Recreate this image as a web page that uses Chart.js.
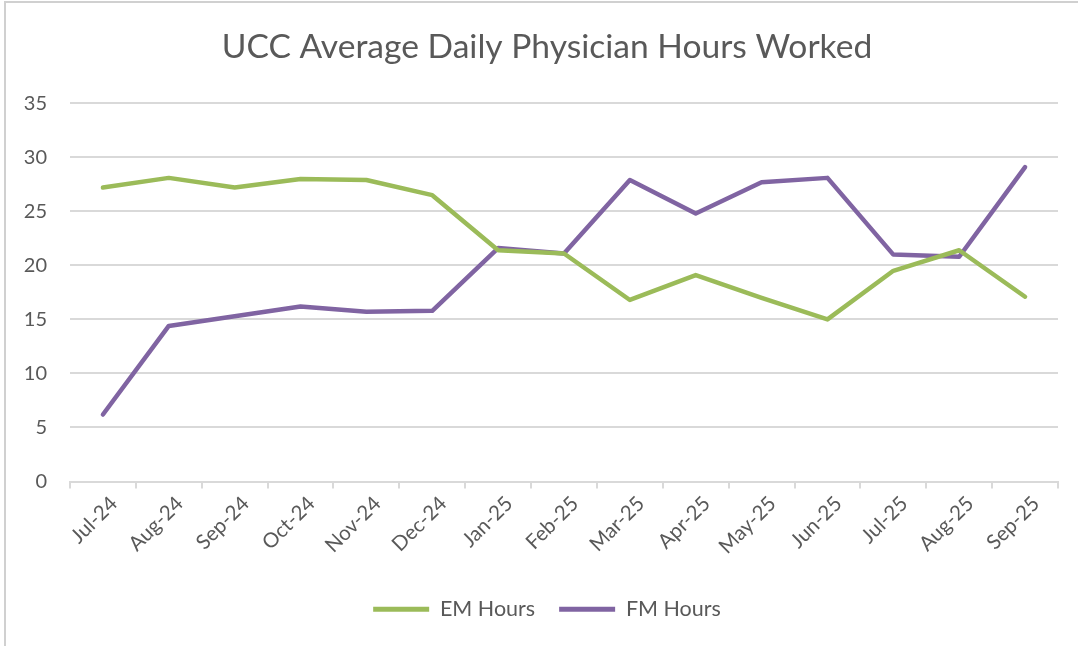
<!DOCTYPE html>
<html>
<head>
<meta charset="utf-8">
<script src="https://cdn.jsdelivr.net/npm/chart.js@4"></script>
<style>
  html, body { margin: 0; padding: 0; background: #ffffff; }
  #wrap { position: relative; width: 1078px; height: 646px; }
</style>
</head>
<body>
<div id="wrap"><canvas id="c" width="1078" height="646"></canvas></div>
<script>
const categories = ["Jul-24","Aug-24","Sep-24","Oct-24","Nov-24","Dec-24","Jan-25","Feb-25","Mar-25","Apr-25","May-25","Jun-25","Jul-25","Aug-25","Sep-25"];
const emHours = [27.2, 28.1, 27.2, 28.0, 27.9, 26.5, 21.4, 21.1, 16.8, 19.1, 17.0, 15.0, 19.5, 21.4, 17.1];
const fmHours = [6.2, 14.4, 15.3, 16.2, 15.7, 15.8, 21.6, 21.1, 27.9, 24.8, 27.7, 28.1, 21.0, 20.8, 29.1];
const yTicks = [0, 5, 10, 15, 20, 25, 30, 35];

const FONT = "Lato, 'Open Sans', sans-serif";
const TEXT = "#595959";
const GRID = "#d9d9d9";

const borderPlugin = {
  id: 'frame',
  beforeDraw(chart) {
    const ctx = chart.ctx;
    ctx.save();
    ctx.fillStyle = '#ffffff';
    ctx.fillRect(0, 0, chart.width, chart.height);
    ctx.strokeStyle = '#d0d0d0';
    ctx.lineWidth = 2;
    ctx.beginPath();
    ctx.moveTo(5, chart.height);
    ctx.lineTo(5, 2);
    ctx.lineTo(chart.width, 2);
    ctx.stroke();
    ctx.restore();
  }
};

new Chart(document.getElementById('c'), {
  type: 'line',
  data: {
    labels: categories,
    datasets: [
      { label: 'EM Hours', data: emHours, borderColor: '#9BBB59', backgroundColor: '#9BBB59',
        borderWidth: 4.5, pointRadius: 0, pointHoverRadius: 0, tension: 0, borderCapStyle: 'round', borderJoinStyle: 'round' },
      { label: 'FM Hours', data: fmHours, borderColor: '#8064A2', backgroundColor: '#8064A2',
        borderWidth: 4.5, pointRadius: 0, pointHoverRadius: 0, tension: 0, borderCapStyle: 'round', borderJoinStyle: 'round' }
    ]
  },
  options: {
    responsive: false,
    animation: false,
    devicePixelRatio: 1,
    layout: { padding: { left: 16, right: 0, top: 10, bottom: 16 } },
    plugins: {
      title: {
        display: true,
        text: 'UCC Average Daily Physician Hours Worked',
        color: TEXT,
        font: { family: FONT, size: 33.6, weight: 'normal' },
        padding: { top: 17, bottom: 36 }
      },
      legend: {
        display: true,
        position: 'bottom',
        labels: {
          color: TEXT,
          font: { family: FONT, size: 21.5 },
          boxWidth: 56,
          boxHeight: 5,
          padding: 24,
          generateLabels(chart) {
            return chart.data.datasets.map((ds, i) => ({
              text: ds.label, fillStyle: ds.borderColor, strokeStyle: ds.borderColor,
              lineWidth: 0, hidden: false, datasetIndex: i, fontColor: TEXT
            }));
          }
        }
      },
      tooltip: { enabled: false }
    },
    scales: {
      x: {
        offset: true,
        afterFit(scale) { scale.height = 93; },
        grid: { display: true, drawOnChartArea: false, drawTicks: true, tickLength: 7, color: GRID, lineWidth: 2, offset: true },
        border: { display: true, color: GRID, width: 2 },
        ticks: { color: TEXT, font: { family: FONT, size: 20.5 }, minRotation: 45, maxRotation: 45, padding: 3, labelOffset: 11, autoSkip: false }
      },
      y: {
        min: 0, max: 35,
        afterBuildTicks(scale) { scale.ticks = yTicks.map(v => ({ value: v })); },
        afterFit(scale) { scale.width = 54; },
        grid: { color: GRID, lineWidth: 2, drawTicks: false },
        border: { display: false },
        ticks: { color: TEXT, font: { family: FONT, size: 20 }, padding: 23 }
      },
      yRight: {
        position: 'right',
        display: true,
        min: 0, max: 35,
        afterFit(scale) { scale.width = 20; },
        grid: { display: false, drawTicks: false },
        border: { display: false },
        ticks: { display: false }
      }
    }
  },
  plugins: [borderPlugin]
});
</script>
</body>
</html>
